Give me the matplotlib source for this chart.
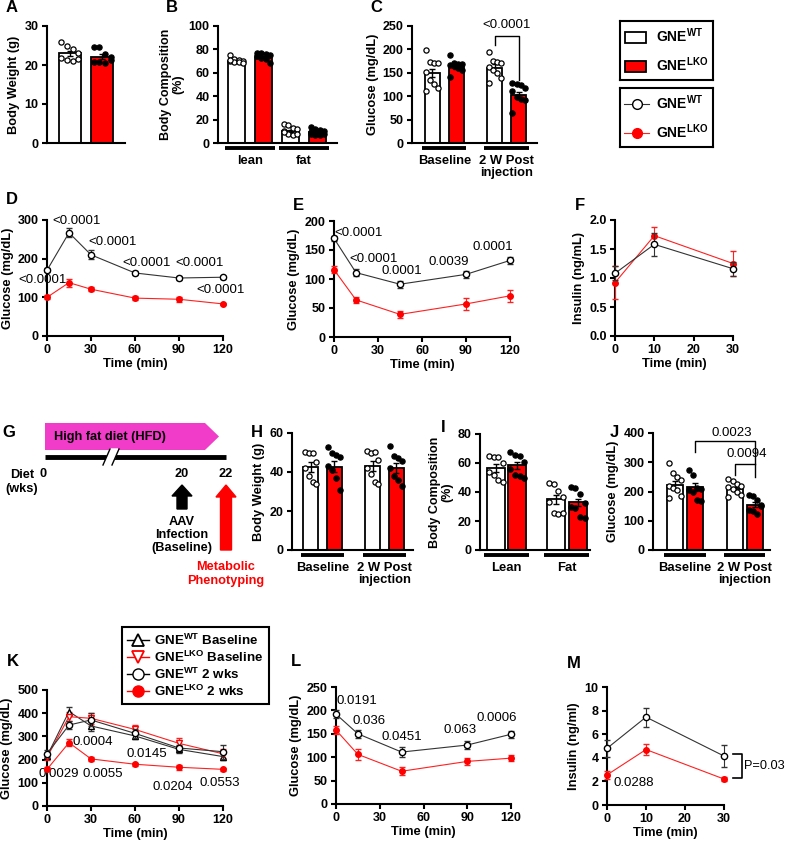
import numpy as np
import matplotlib.pyplot as plt
from matplotlib.patches import Polygon, Patch, FancyArrow
from matplotlib.lines import Line2D

plt.rcParams['font.family'] = ['Liberation Sans', 'DejaVu Sans']
plt.rcParams['font.weight'] = 'bold'
plt.rcParams['axes.labelweight'] = 'bold'
plt.rcParams['mathtext.fontset'] = 'custom'
plt.rcParams['mathtext.rm'] = 'Liberation Sans:bold'
plt.rcParams['mathtext.bf'] = 'Liberation Sans:bold'
plt.rcParams['axes.linewidth'] = 1.5
plt.rcParams['xtick.major.width'] = 1.5
plt.rcParams['ytick.major.width'] = 1.5
plt.rcParams['xtick.major.size'] = 3.5
plt.rcParams['ytick.major.size'] = 3.5
plt.rcParams['xtick.major.pad'] = 2.5
plt.rcParams['ytick.major.pad'] = 2.5
plt.rcParams['xtick.labelsize'] = 9
plt.rcParams['ytick.labelsize'] = 9
plt.rcParams['axes.labelsize'] = 9.3

WT = r'GNE$^{\mathrm{WT}}$'
LKO = r'GNE$^{\mathrm{LKO}}$'

# ---- data ----
# A: chow body weight
a_mean = [23.0, 22.1]
a_sem = [0.7, 0.6]
a_pts = [[25.9, 24.9, 24.1, 23.0, 21.8, 21.2, 20.9, 21.5],
         [24.6, 24.6, 22.8, 22.1, 20.8, 20.8, 20.6, 21.2]]

# B: body composition (lean, fat)
b_groups = ['lean', 'fat']
b_mean = [70.0, 73.0, 10.0, 9.0]
b_sem = [0.8, 1.0, 0.9, 0.8]
b_pts = [[75, 72, 71, 70, 70, 69, 69, 68, 71],
         [77, 77, 76, 75, 74, 73, 72, 68, 74],
         [16, 15, 13, 12, 10, 8, 7, 8, 9],
         [14, 12, 11, 10, 8, 7, 7, 8, 9]]

# C: fasting glucose
c_groups = ['Baseline', '2 W Post\ninjection']
c_mean = [150, 163, 161, 102]
c_sem = [9, 4, 7, 7]
c_pts = [[199, 173, 172, 170, 152, 135, 126, 117, 112],
         [188, 170, 169, 168, 167, 165, 160, 155, 141],
         [195, 176, 174, 171, 163, 156, 149, 139, 128],
         [128, 127, 125, 118, 112, 98, 95, 91, 64]]

# D: GTT (chow)
d_t = [0, 15, 30, 60, 90, 120]
d_wt = [170, 267, 210, 163, 150, 152]
d_wt_sem = [5, 12, 12, 4, 6, 4]
d_lko = [100, 138, 121, 98, 95, 83]
d_lko_sem = [5, 10, 5, 5, 6, 3]
d_p = ['<0.0001', '<0.0001', '<0.0001', '<0.0001', '<0.0001', '<0.0001']
d_p_xy = [(-3, 145), (20, 297), (45, 243), (68, 189), (104, 189), (118, 119)]

# E: ITT (chow)
e_t = [0, 15, 45, 90, 120]
e_wt = [170, 111, 91, 108, 132]
e_wt_sem = [5, 6, 6, 6, 6]
e_lko = [116, 64, 39, 57, 71]
e_lko_sem = [6, 5, 6, 11, 10]
e_p = ['<0.0001', '<0.0001', '0.0001', '0.0039', '0.0001']
e_p_xy = [(17, 179), (27, 134), (46, 114), (78, 129), (108, 155)]

# F: insulin (chow)
f_t = [0, 10, 30]
f_wt = [1.08, 1.58, 1.16]
f_wt_sem = [0.12, 0.2, 0.12]
f_lko = [0.92, 1.73, 1.25]
f_lko_sem = [0.28, 0.15, 0.22]

# G: timeline
g_weeks = ['0', '20', '22']

# H: HFD body weight
h_groups = ['Baseline', '2 W Post\ninjection']
h_mean = [42.5, 42.8, 43.0, 42.2]
h_sem = [2.5, 2.8, 2.6, 2.6]
h_pts = [[50.5, 49.5, 50.0, 45, 42, 38, 35, 34],
         [53, 49.5, 48.5, 47.5, 43, 41, 37, 31],
         [51, 50, 50.5, 46, 42, 39, 35, 34],
         [53.5, 48, 47, 45.5, 42, 38, 36, 33]]

# I: HFD body composition
i_groups = ['Lean', 'Fat']
i_mean = [56.5, 58.3, 35.0, 32.8]
i_sem = [2.6, 2.2, 3.0, 2.7]
i_pts = [[64.5, 64, 64, 60, 54, 52, 48, 47],
         [67.5, 65.5, 64.5, 61, 56, 52, 51, 50],
         [46, 45.5, 41, 36.5, 33, 25.5, 25, 25.5],
         [43.5, 43, 38.5, 32.5, 30, 29, 23, 22]]

# J: HFD fasting glucose
j_groups = ['Baseline', '2 W Post\ninjection']
j_mean = [222, 215, 208, 155]
j_sem = [13, 14, 7, 9]
j_pts = [[298, 262, 250, 240, 218, 212, 205, 185, 178],
         [273, 255, 212, 210, 205, 200, 172, 168],
         [243, 235, 225, 220, 215, 210, 200, 188, 182],
         [188, 186, 170, 155, 137, 132, 122, 150]]

# K: GTT (HFD)
k_t = [0, 15, 30, 60, 90, 120]
k_wt_base = [215, 407, 345, 302, 244, 213]
k_wt_base_sem = [12, 18, 20, 15, 15, 15]
k_lko_base = [210, 385, 378, 330, 270, 225]
k_lko_base_sem = [12, 20, 25, 18, 25, 20]
k_wt_2w = [225, 349, 371, 313, 250, 234]
k_wt_2w_sem = [15, 18, 28, 20, 15, 30]
k_lko_2w = [158, 273, 203, 180, 167, 158]
k_lko_2w_sem = [8, 15, 8, 6, 10, 6]
k_p = ['0.0004', '0.0145', '0.0029', '0.0055', '0.0204', '0.0553']
k_p_xy = [(31, 276), (68, 224), (8, 138), (38, 138), (86, 82), (118, 99)]

# L: ITT (HFD)
l_t = [0, 15, 45, 90, 120]
l_wt = [192, 150, 111, 126, 149]
l_wt_sem = [8, 8, 10, 9, 7]
l_lko = [158, 106, 70, 91, 98]
l_lko_sem = [8, 12, 8, 8, 7]
l_p = ['0.0191', '0.036', '0.0451', '0.063', '0.0006']
l_p_xy = [(14, 220), (23, 177), (45, 143), (85, 158), (110, 184)]

# M: insulin (HFD)
m_t = [0, 10, 30]
m_wt = [4.8, 7.45, 4.15]
m_wt_sem = [0.7, 0.8, 0.95]
m_lko = [2.55, 4.7, 2.2]
m_lko_sem = [0.35, 0.5, 0.2]

W, H = 787, 842
fig = plt.figure(figsize=(W / 100, H / 100), dpi=100)
PFS = 9.5   # p-value font size


def ax_px(l, t, r, b):
    ax = fig.add_axes([l / W, 1 - b / H, (r - l) / W, (b - t) / H])
    ax.spines['top'].set_visible(False)
    ax.spines['right'].set_visible(False)
    return ax


def letter(x, y, s):
    fig.text(x / W, 1 - y / H, s, fontsize=12, fontweight='bold', ha='left', va='center')


def bar_panel(ax, pos, means, sems, pts, width, ylim, yticks, ylabel, groups=None, glab_y=-0.1, lfs=9.3):
    for i, (x, m, s, p) in enumerate(zip(pos, means, sems, pts)):
        wt = i % 2 == 0
        ax.bar(x, m, width=width, color='white' if wt else '#FF0000', edgecolor='black', lw=1.3, zorder=2)
        ax.errorbar(x, m, yerr=s, color='black', capsize=2.5, lw=1, capthick=1, zorder=3)
        off = ((np.arange(len(p)) % 4) - 1.5) * width * 0.26
        ax.scatter(x + off, p, s=14, facecolor='white' if wt else 'black', edgecolor='black',
                   lw=0.9, zorder=4, clip_on=False)
    ax.set_ylim(*ylim)
    ax.set_yticks(yticks)
    ax.set_xticks([])
    ax.set_ylabel(ylabel, labelpad=3, linespacing=1.05, fontsize=lfs)
    if groups:
        tr = ax.get_xaxis_transform()
        for g, (x0, x1) in enumerate(zip(pos[0::2], pos[1::2])):
            ax.plot([x0 - width * 0.65, x1 + width * 0.65], [-0.04, -0.04], color='black', lw=2.8,
                    transform=tr, clip_on=False, solid_capstyle='butt')
            ax.text((x0 + x1) / 2, glab_y, groups[g], transform=tr, ha='center', va='top',
                    fontsize=9.4, fontweight='bold', linespacing=1.05)


def line_panel(ax, t, wt, wt_s, lko, lko_s, xlim, xticks, ylim, yticks, ylabel):
    ax.errorbar(t, lko, yerr=lko_s, color='#FF2020', lw=0.8, marker='o', ms=4, mfc='red', mec='red',
                capsize=2, elinewidth=0.8, clip_on=False, zorder=3)
    ax.errorbar(t, wt, yerr=wt_s, color='#333333', lw=0.8, marker='o', ms=4.5, mfc='white', mec='black',
                mew=1, capsize=2, elinewidth=0.8, clip_on=False, zorder=4)
    ax.set_xlim(*xlim)
    ax.set_xticks(xticks)
    ax.set_ylim(*ylim)
    ax.set_yticks(yticks)
    ax.set_xlabel('Time (min)', labelpad=1)
    ax.set_ylabel(ylabel, labelpad=3)


def pvals(ax, labels, xy):
    for s, (x, y) in zip(labels, xy):
        ax.text(x, y, s, ha='center', va='center', fontsize=PFS, fontweight='normal', clip_on=False)


# ---- row 1 ----
ax = ax_px(47, 26, 125, 143)
bar_panel(ax, [0, 1], a_mean, a_sem, a_pts, 0.67, (0, 30), [0, 10, 20, 30], 'Body Weight (g)')
ax.set_xlim(-0.7, 1.7)
letter(6, 7, 'A')

ax = ax_px(218, 26, 337, 143)
bar_panel(ax, [0, 1, 2, 3], b_mean, b_sem, b_pts, 0.65, (0, 100), [0, 20, 40, 60, 80, 100],
          'Body Composition\n(%)', b_groups, lfs=9.0)
ax.set_xlim(-0.69, 3.72)
letter(166, 7, 'B')

ax = ax_px(412, 26, 537, 143)
pos_c = [0, 1, 2.6, 3.6]
bar_panel(ax, pos_c, c_mean, c_sem, c_pts, 0.65, (0, 250), [0, 50, 100, 150, 200, 250],
          'Glucose (mg/dL)', c_groups)
ax.set_xlim(-0.85, 4.37)
ax.plot([pos_c[2], pos_c[2], pos_c[3], pos_c[3]], [209, 228, 228, 135], color='black', lw=1, clip_on=False)
ax.text((pos_c[2] + pos_c[3]) / 2, 252, '<0.0001', ha='center', va='center', fontsize=PFS,
        fontweight='normal', clip_on=False)
letter(370, 8, 'C')

# legends top right
lax = ax_px(620, 21, 713, 80)
lax.set_xticks([]); lax.set_yticks([])
for sp in lax.spines.values():
    sp.set_visible(True); sp.set_linewidth(1.5)
lax.legend([Patch(facecolor='white', edgecolor='black', lw=1.3),
            Patch(facecolor='#FF0000', edgecolor='black', lw=1.3)], [WT, LKO],
           loc='center', frameon=False, fontsize=10, handlelength=1.5, handleheight=0.9,
           labelspacing=0.75, handletextpad=0.7)

lax = ax_px(620, 88, 713, 147)
lax.set_xticks([]); lax.set_yticks([])
for sp in lax.spines.values():
    sp.set_visible(True); sp.set_linewidth(1.5)
lax.legend([Line2D([], [], color='#333333', lw=0.8, marker='o', ms=7, mfc='white', mec='black'),
            Line2D([], [], color='#FF2020', lw=0.8, marker='o', ms=7, mfc='red', mec='red')], [WT, LKO],
           loc='center', frameon=False, fontsize=10, handlelength=1.8,
           labelspacing=0.75, handletextpad=0.5)

# ---- row 2 ----
ax = ax_px(47, 220, 223, 336)
line_panel(ax, d_t, d_wt, d_wt_sem, d_lko, d_lko_sem, (0, 120), [0, 30, 60, 90, 120],
           (0, 300), [0, 100, 200, 300], 'Glucose (mg/dL)')
pvals(ax, d_p, d_p_xy)
letter(6, 200, 'D')

ax = ax_px(334, 221, 510, 337)
line_panel(ax, e_t, e_wt, e_wt_sem, e_lko, e_lko_sem, (0, 120), [0, 30, 60, 90, 120],
           (0, 200), [0, 50, 100, 150, 200], 'Glucose (mg/dL)')
pvals(ax, e_p, e_p_xy)
letter(293, 205, 'E')

ax = ax_px(615, 220, 733, 336)
line_panel(ax, f_t, f_wt, f_wt_sem, f_lko, f_lko_sem, (0, 30), [0, 10, 20, 30],
           (0, 2), [0, 0.5, 1.0, 1.5, 2.0], 'Insulin (ng/mL)')
ax.set_yticklabels(['0.0', '0.5', '1.0', '1.5', '2.0'])
letter(575, 205, 'F')

# ---- row 3 ----
# G schematic (pixel units)
gax = fig.add_axes([0, 1 - 600 / H, 262 / W, 185 / H])
gax.set_xlim(0, 262)
gax.set_ylim(600, 415)
gax.axis('off')
gax.add_patch(Polygon([(45, 423), (205, 423), (219, 436.5), (205, 450), (45, 450)], closed=True,
                      facecolor='#F03CC8', edgecolor='none'))
gax.text(110, 437, 'High fat diet (HFD)', ha='center', va='center', fontsize=9.2, fontweight='bold')
gax.plot([45, 226], [457, 457], color='black', lw=3.5, solid_capstyle='butt')
gax.fill([104, 110, 118, 112], [465, 449, 449, 465], color='white', zorder=3)
gax.plot([103, 110], [465, 449], color='black', lw=1, zorder=4)
gax.plot([112, 119], [465, 449], color='black', lw=1, zorder=4)
week_x = [43, 182, 226]
for wx, wk in zip(week_x, g_weeks):
    gax.text(wx, 474, wk, ha='center', va='center', fontsize=9.2, fontweight='bold')
gax.text(22, 482, 'Diet\n(wks)', ha='center', va='center', fontsize=9.2, fontweight='bold', linespacing=1.2)
gax.add_patch(FancyArrow(182, 509, 0, -24, width=10, head_width=20, head_length=11,
                         length_includes_head=True, color='black'))
gax.text(182, 535, 'AAV\nInfection\n(Baseline)', ha='center', va='center', fontsize=9.2,
         fontweight='bold', linespacing=1.15)
gax.add_patch(FancyArrow(226, 550, 0, -65, width=11, head_width=20, head_length=12,
                         length_includes_head=True, color='#FF0000'))
gax.text(226, 574, 'Metabolic\nPhenotyping', ha='center', va='center', fontsize=9.2,
         fontweight='bold', color='#FF0000', linespacing=1.15)
letter(2, 432, 'G')

ax = ax_px(292, 433, 413, 550)
pos_h = [0, 1, 2.64, 3.64]
bar_panel(ax, pos_h, h_mean, h_sem, h_pts, 0.64, (0, 60), [0, 20, 40, 60], 'Body Weight (g)', h_groups)
ax.set_xlim(-0.79, 4.36)
letter(251, 432, 'H')

ax = ax_px(480, 434, 590, 550)
pos_i = [0, 1, 2.8, 3.8]
bar_panel(ax, pos_i, i_mean, i_sem, i_pts, 0.84, (0, 80), [0, 20, 40, 60, 80],
          'Body Composition\n(%)', i_groups, lfs=9.0)
ax.set_xlim(-0.74, 4.38)
letter(441, 428, 'I')

ax = ax_px(653, 433, 770, 550)
pos_j = [0, 1, 2.93, 3.93]
bar_panel(ax, pos_j, j_mean, j_sem, j_pts, 0.78, (0, 400), [0, 100, 200, 300, 400],
          'Glucose (mg/dL)', j_groups)
ax.set_xlim(-1.07, 4.66)
ax.plot([pos_j[1], pos_j[1], pos_j[3], pos_j[3]], [335, 373, 373, 250], color='black', lw=1, clip_on=False)
ax.plot([pos_j[2], pos_j[2], pos_j[3]], [256, 294, 294], color='black', lw=1, clip_on=False)
ax.text((pos_j[1] + pos_j[3]) / 2 + 0.3, 400, '0.0023', ha='center', va='center', fontsize=PFS,
        fontweight='normal', clip_on=False)
ax.text((pos_j[2] + pos_j[3]) / 2 + 0.1, 328, '0.0094', ha='center', va='center', fontsize=PFS,
        fontweight='normal', clip_on=False)
letter(610, 432, 'J')

# ---- row 4 ----
ax = ax_px(47, 690, 223, 806)
kw = dict(lw=0.8, capsize=2, elinewidth=0.8, clip_on=False)
ax.errorbar(k_t, k_wt_base, yerr=k_wt_base_sem, color='#333333', marker='^', ms=4.5, mfc='white',
            mec='black', zorder=3, **kw)
ax.errorbar(k_t, k_lko_base, yerr=k_lko_base_sem, color='#FF2020', marker='v', ms=4.5, mfc='white',
            mec='red', zorder=3, **kw)
ax.errorbar(k_t, k_wt_2w, yerr=k_wt_2w_sem, color='#333333', marker='o', ms=4.5, mfc='white',
            mec='black', zorder=4, **kw)
ax.errorbar(k_t, k_lko_2w, yerr=k_lko_2w_sem, color='#FF2020', marker='o', ms=4, mfc='red',
            mec='red', zorder=4, **kw)
ax.set_xlim(0, 120)
ax.set_xticks([0, 30, 60, 90, 120])
ax.set_ylim(0, 500)
ax.set_yticks([0, 100, 200, 300, 400, 500])
ax.set_xlabel('Time (min)', labelpad=1)
ax.set_ylabel('Glucose (mg/dL)', labelpad=3)
pvals(ax, k_p, k_p_xy)
k_handles = [Line2D([], [], color='black', lw=1, marker='^', ms=8, mfc='white', mec='black', mew=1.3),
             Line2D([], [], color='red', lw=1, marker='v', ms=8, mfc='white', mec='red', mew=1.3),
             Line2D([], [], color='black', lw=1, marker='o', ms=8, mfc='white', mec='black', mew=1),
             Line2D([], [], color='red', lw=1, marker='o', ms=8, mfc='red', mec='red')]
k_labels = [WT + ' Baseline', LKO + ' Baseline', WT + ' 2 wks', LKO + ' 2 wks']
leg = fig.legend(k_handles, k_labels, loc='upper left',
                 bbox_to_anchor=(122 / W, 1 - 627 / H), fontsize=9.6, handlelength=1.6,
                 labelspacing=0.15, handletextpad=0.4, borderpad=0.4, borderaxespad=0,
                 fancybox=False, edgecolor='black', framealpha=1)
leg.get_frame().set_linewidth(1.5)
letter(7, 662, 'K')

ax = ax_px(336, 687, 511, 804)
line_panel(ax, l_t, l_wt, l_wt_sem, l_lko, l_lko_sem, (0, 120), [0, 30, 60, 90, 120],
           (0, 250), [0, 50, 100, 150, 200, 250], 'Glucose (mg/dL)')
pvals(ax, l_p, l_p_xy)
letter(291, 662, 'L')

ax = ax_px(607, 687, 724, 805)
line_panel(ax, m_t, m_wt, m_wt_sem, m_lko, m_lko_sem, (0, 30), [0, 10, 20, 30],
           (0, 10), [0, 2, 4, 6, 8, 10], 'Insulin (ng/ml)')
ax.text(6.8, 1.9, '0.0288', ha='center', va='center', fontsize=PFS, fontweight='normal')
ax.plot([32.2, 34.6, 34.6, 32.2], [4.35, 4.35, 2.3, 2.3], color='black', lw=1.2, clip_on=False)
ax.text(35.2, 3.3, 'P=0.03', ha='left', va='center', fontsize=9.2, fontweight='normal', clip_on=False)
letter(567, 663, 'M')

fig.savefig('out.png', dpi=100)
